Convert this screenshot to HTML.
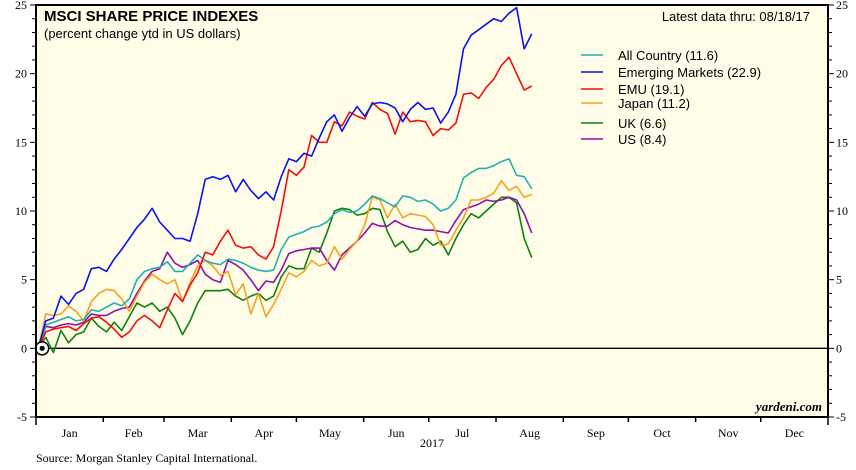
<!DOCTYPE html>
<html><head><meta charset="utf-8"><style>
html,body{margin:0;padding:0;background:#fff;}
svg{display:block;}
.ser{font-family:"Liberation Serif",serif;}
.sans{font-family:"Liberation Sans",sans-serif;}
</style></head><body>
<svg id="chart" width="856" height="470" viewBox="0 0 856 470" xmlns="http://www.w3.org/2000/svg">
<rect x="36" y="5" width="792" height="412" fill="#fffde8"/>
<g id="grid"></g>
<g id="series"></g>
<g id="axes"></g>
<text class="sans" x="44" y="21" font-size="15" font-weight="bold" fill="#000">MSCI SHARE PRICE INDEXES</text>
<text class="sans" x="44" y="38" font-size="13" fill="#000">(percent change ytd in US dollars)</text>
<text class="sans" x="810" y="21" font-size="13" text-anchor="end" fill="#000">Latest data thru: 08/18/17</text>
<text class="ser" x="822" y="411" font-size="13" font-weight="bold" font-style="italic" text-anchor="end" fill="#000">yardeni.com</text>
<text class="ser" x="432" y="447" font-size="12" text-anchor="middle" fill="#000">2017</text>
<text class="ser" x="36" y="462" font-size="12" fill="#000">Source: Morgan Stanley Capital International.</text>
<g id="legend"></g>
</svg>
<script>
const seriesNames = ["All Country (11.6)","Emerging Markets (22.9)","EMU (19.1)","Japan (11.2)","UK (6.6)","US (8.4)"];
const seriesColors = ["#20b2b2","#0a14e6","#f01010","#f8a020","#108010","#9010a8"];
const allCountry = [0,1.7,1.9,2.1,2.3,2.0,2.1,2.8,2.7,3.0,3.3,3.1,3.6,5.0,5.6,5.8,5.9,6.3,5.6,5.6,6.2,6.8,6.4,6.2,6.1,6.5,6.4,6.2,5.9,5.7,5.6,5.7,7.2,8.1,8.3,8.5,8.8,8.9,9.2,9.8,10.1,9.9,10.0,10.5,11.1,10.9,10.6,10.3,11.1,11.0,10.7,10.8,10.5,10.0,10.2,10.8,12.4,12.8,13.1,13.1,13.3,13.6,13.8,12.6,12.5,11.6];
const emerging = [0,2.0,2.2,3.8,3.2,4.0,4.3,5.8,5.9,5.6,6.5,7.2,8.0,8.8,9.4,10.2,9.2,8.6,8.0,8.0,7.8,9.8,12.3,12.5,12.3,12.6,11.4,12.3,11.5,10.9,11.4,10.8,12.5,13.8,13.6,14.2,14.0,15.3,16.5,17.0,15.8,16.8,17.6,16.9,17.8,17.9,17.8,17.5,16.5,17.4,17.9,17.4,17.5,16.4,17.2,18.5,21.8,22.8,23.2,23.6,24.0,23.8,24.4,24.8,21.8,22.9];
const emu = [0,1.2,1.4,1.5,1.6,1.3,1.8,2.2,2.3,1.9,1.4,0.8,1.2,2.0,2.4,2.0,1.5,2.8,4.0,3.4,4.6,5.5,7.0,6.8,7.8,8.6,7.5,7.3,7.4,6.8,6.5,7.4,10.0,13.0,12.6,13.2,15.5,15.0,15.0,16.5,16.2,17.2,16.9,16.7,17.9,17.4,17.1,15.6,17.2,16.5,16.6,16.5,15.5,16.0,15.9,16.4,18.5,18.6,18.2,19.0,19.6,20.6,21.2,20.0,18.8,19.1];
const japan = [0,2.5,2.4,2.5,3.1,2.7,2.0,3.4,4.0,4.3,4.2,3.6,2.7,3.8,4.8,5.4,5.0,4.7,5.0,3.4,4.8,6.0,6.4,6.0,5.3,5.6,3.9,4.7,2.5,4.0,2.3,3.2,4.3,5.5,5.2,5.6,6.4,6.0,6.2,7.4,6.5,7.2,7.8,9.0,11.0,10.8,9.5,10.5,9.5,9.8,9.7,9.6,9.0,7.5,7.6,8.6,9.5,10.8,10.8,11.0,11.3,12.2,11.5,11.8,11.0,11.2];
const uk = [0,0.8,-0.3,1.3,0.4,1.0,1.2,2.2,1.6,1.2,1.9,1.3,2.3,3.3,3.0,3.3,2.7,3.0,2.2,1.0,2.0,3.3,4.2,4.2,4.2,4.3,3.8,3.5,3.8,4.0,3.5,3.8,5.2,6.0,5.8,5.8,7.3,7.0,8.4,10.0,10.2,10.1,9.7,9.8,10.2,10.1,8.5,7.4,7.8,7.0,7.2,8.0,7.5,7.8,6.8,8.0,9.0,9.8,9.5,10.0,10.5,11.0,11.0,10.6,8.0,6.6];
const us = [0,1.6,1.5,1.7,1.8,1.7,1.9,2.5,2.4,2.4,2.7,2.9,3.0,4.0,4.9,5.6,5.8,7.0,6.2,5.9,6.1,6.4,5.4,5.0,4.8,6.4,6.1,5.7,5.0,4.2,4.9,4.8,5.7,6.9,7.1,7.2,7.3,7.3,6.4,5.7,6.8,7.3,7.8,8.4,9.1,8.9,8.9,9.3,9.0,8.8,8.7,8.6,8.6,8.5,8.4,9.3,10.1,10.3,10.5,10.8,10.7,10.8,11.0,10.8,9.8,8.4];
const yTicks = [-5,0,5,10,15,20,25];
const monthLabels = ["Jan","Feb","Mar","Apr","May","Jun","Jul","Aug","Sep","Oct","Nov","Dec"];
const monthDays = [31,28,31,30,31,30,31,31,30,31,30,31];
const sampleStepDays = 3.5;

const NS="http://www.w3.org/2000/svg";
const X0=36,X1=828,Y0=5,Y1=417;
function xDay(d){return X0+d*(X1-X0)/365;}
function yVal(v){return Y1-(v-(-5))*(Y1-Y0)/30;}
function mk(tag,attrs,parent){const e=document.createElementNS(NS,tag);for(const k in attrs)e.setAttribute(k,attrs[k]);parent.appendChild(e);return e;}
const axes=document.getElementById('axes'),grid=document.getElementById('grid'),ser=document.getElementById('series'),leg=document.getElementById('legend');

// zero line
const zl=mk('line',{x1:X0,x2:X1,y1:yVal(0),y2:yVal(0),stroke:'#000','stroke-width':1.3},grid);



// series
const allSeries=[allCountry,emerging,emu,japan,uk,us];
const drawOrder=[4,5,3,0,2,1];
drawOrder.forEach(si=>{
  const vals=allSeries[si];
  const pts=vals.map((v,i)=>xDay(1+i*sampleStepDays).toFixed(1)+','+yVal(v).toFixed(1)).join(' ');
  const pl=mk('polyline',{points:pts,fill:'none',stroke:seriesColors[si],'stroke-width':1.6,'stroke-linejoin':'round'},ser);
  
  
});

// origin marker
const om=mk('circle',{cx:xDay(1)+4,cy:yVal(0),r:6.5,fill:'#fff',stroke:'#000','stroke-width':1.5},axes);


const od=mk('circle',{cx:xDay(1)+4,cy:yVal(0),r:2.6,fill:'#000'},axes);



// frame
const fr=mk('rect',{x:X0,y:Y0,width:X1-X0,height:Y1-Y0,fill:'none',stroke:'#000','stroke-width':2},axes);



// y ticks
for(let v=-5;v<=25;v++){
  const y=yVal(v);const major=(v%5===0);const len=major?6:4;
  mk('line',{x1:X0-len,x2:X0,y1:y,y2:y,stroke:'#000','stroke-width':1},axes);
  mk('line',{x1:X1,x2:X1+len,y1:y,y2:y,stroke:'#000','stroke-width':1},axes);
}
yTicks.forEach(v=>{
  const y=yVal(v);
  const tl=mk('text',{x:X0-9,y:y+4,'font-size':12,'text-anchor':'end',class:'ser',fill:'#000'},axes);
  tl.textContent=v;
  
  
  const tr=mk('text',{x:X1+8,y:y+4,'font-size':12,class:'ser',fill:'#000'},axes);
  tr.textContent=v;
  
  
});

// x ticks
let cum=0;
monthLabels.forEach((m,i)=>{
  const xs=xDay(cum);
  mk('line',{x1:xs,x2:xs,y1:Y1,y2:Y1+(i===0?8:5),stroke:'#000','stroke-width':1.5},axes);
  const xm=xDay(cum+monthDays[i]/2);
  const t=mk('text',{x:xm,y:Y1+20,'font-size':12,'text-anchor':'middle',class:'ser',fill:'#000'},axes);
  t.textContent=m;
  
  
  cum+=monthDays[i];
});
mk('line',{x1:X1,x2:X1,y1:Y1,y2:Y1+8,stroke:'#000','stroke-width':1.5},axes);

// legend
const legY=[60,77,94,108,128,144];
seriesNames.forEach((n,i)=>{
  const g=mk('g',{},leg);
  
  
  mk('line',{x1:581,x2:603,y1:legY[i]-5,y2:legY[i]-5,stroke:seriesColors[i],'stroke-width':1.6},g);
  const t=mk('text',{x:618,y:legY[i],'font-size':13,class:'sans',fill:'#000'},g);
  t.textContent=n;
});
</script>
</body></html>
